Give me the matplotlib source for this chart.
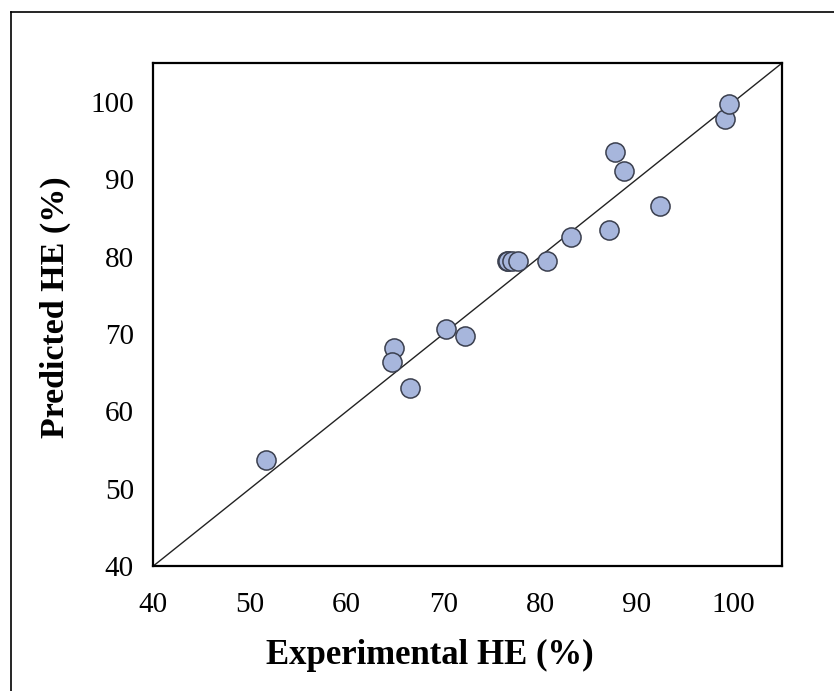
import matplotlib.pyplot as plt
from matplotlib.lines import Line2D

# experimental vs predicted HE (%)
experimental = [51.7, 64.9, 64.7, 66.6, 70.3, 72.2, 76.6, 76.7, 77.1, 77.7,
                80.7, 83.2, 87.1, 92.4, 87.8, 88.7, 99.1, 99.5]
predicted = [53.7, 68.2, 66.4, 63.0, 70.6, 69.7, 79.5, 79.5, 79.5, 79.5,
             79.5, 82.5, 83.4, 86.5, 93.5, 91.1, 97.8, 99.7]
ticks = [40, 50, 60, 70, 80, 90, 100]

plt.rcParams['font.family'] = ['Liberation Serif', 'DejaVu Serif']

fig = plt.figure(figsize=(8.34, 6.91), dpi=100)
ax = fig.add_axes([153.3 / 834, 1 - 566 / 691, (781.7 - 153.3) / 834, (566 - 63.3) / 691])

# 1:1 line
ax.plot([40, 105], [40, 105], color='#222222', lw=1.0, zorder=2)
ax.scatter(experimental, predicted, s=190, facecolor='#A7B6DC',
           edgecolor='#3A3F4E', linewidth=1.1, zorder=3)

ax.set_xlim(40, 105)
ax.set_ylim(40, 105)
ax.set_xticks(ticks)
ax.set_yticks(ticks)
ax.tick_params(length=0, labelsize=21)
ax.tick_params(axis='x', pad=19)
ax.tick_params(axis='y', pad=14)
for s in ax.spines.values():
    s.set_linewidth(1.6)
    s.set_color('black')

ax.set_xlabel('Experimental HE (%)', fontsize=25, fontweight='bold')
ax.set_ylabel('Predicted HE (%)', fontsize=24.5, fontweight='bold')
ax.xaxis.set_label_coords(0.44, -0.178)
ax.yaxis.set_label_coords(-0.156, 0.515)
ax.xaxis.label.set_va('center')
ax.yaxis.label.set_va('center')

# outer frame (top and left edges)
fig.add_artist(Line2D([11 / 834, 1], [1 - 11.5 / 691, 1 - 11.5 / 691],
                      transform=fig.transFigure, color='black', lw=1.2))
fig.add_artist(Line2D([11 / 834, 11 / 834], [0, 1 - 11.5 / 691],
                      transform=fig.transFigure, color='black', lw=1.2))

fig.savefig('out.png', dpi=100)
